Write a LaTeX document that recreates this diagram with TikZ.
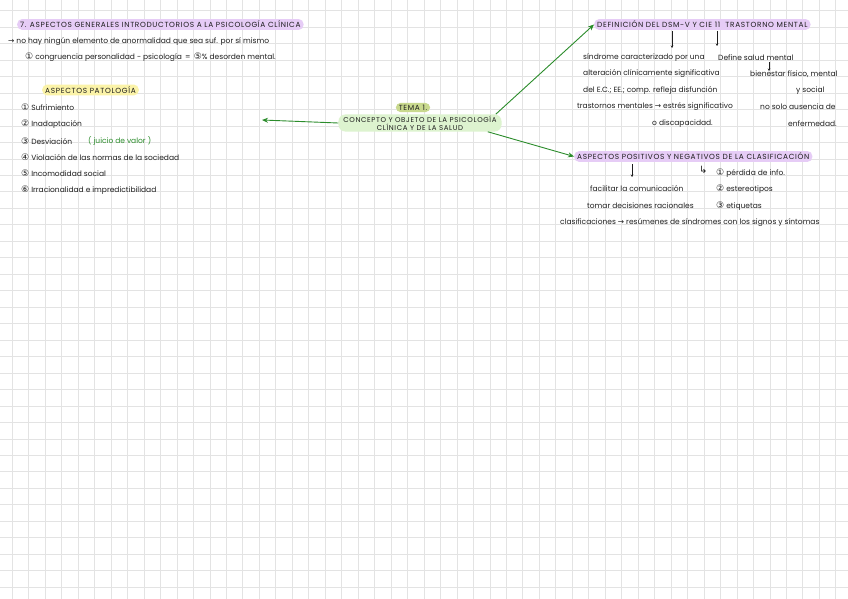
\documentclass[tikz,border=0pt]{standalone}
\usepackage{fontspec}
\setmainfont{Poppins}
\newfontfamily\symf{DejaVu Sans}
\newfontfamily\capf[LetterSpace=9]{Poppins}
\usetikzlibrary{arrows.meta}
\definecolor{gridc}{HTML}{E3E3E3}
\definecolor{ink}{HTML}{1E1E1E}
\definecolor{purp}{HTML}{E6CCF6}
\definecolor{yel}{HTML}{FBF3A8}
\definecolor{olive}{HTML}{C9D98E}
\definecolor{lgreen}{HTML}{DDF3CF}
\definecolor{arrg}{HTML}{2B8C2B}
\newcommand\mysym[1]{{\symf\fontsize{9}{9}\selectfont #1}}
\newcommand\myarr{{\symf →}}
\begin{document}
\begin{tikzpicture}[x=1pt,y=-1pt,
  txt/.style={anchor=west, inner sep=0pt, text=ink, font=\fontsize{7.5}{8}\selectfont},
  capbox/.style={anchor=west, text=ink, font=\capf\fontsize{7.4}{8}\selectfont, rounded corners=5pt, inner xsep=3pt, inner ysep=2pt},
  hlp/.style={capbox, fill=purp},
  hly/.style={capbox, fill=yel},
  garrow/.style={draw=arrg, line width=0.9pt, -{Stealth[length=6pt,width=5pt]}},
  karrow/.style={draw=ink, line width=0.5pt, -{Stealth[length=2.5pt,width=2.5pt]}}]
\useasboundingbox (0,0) rectangle (848,599);
\fill[white] (0,0) rectangle (848,599);
% grid
\foreach \i in {0,...,51} \draw[gridc, line width=0.8pt] ({12.3+16.47*\i},0) -- ({12.3+16.47*\i},599);
\foreach \j in {0,...,36} \draw[gridc, line width=0.8pt] (0,{10.7+16.47*\j}) -- (848,{10.7+16.47*\j});

% top-left block
\node[hlp] (title) at (17,24.5) {7. ASPECTOS GENERALES INTRODUCTORIOS A LA PSICOLOGÍA CLÍNICA};
\node[txt] (l2) at (8,42) {\myarr\ no hay ningún elemento de anormalidad que sea suf. por sí mismo};
\node[txt] (l3) at (25,57) {\mysym{①} congruencia personalidad - psicología \,=\, \mysym{⑤}\% desorden mental.};

\node[hly] (pat) at (42,90) {ASPECTOS PATOLOGÍA\hspace{4pt}};
\node[txt] (p1) at (21,107) {\mysym{①} Sufrimiento};
\node[txt] (p2) at (21,124) {\mysym{②} Inadaptación};
\node[txt] (p3) at (21,141) {\mysym{③} Desviación};
\node[txt, text=arrg] (p3b) at (88,141) {( juicio de valor )};
\node[txt] (p4) at (21,157) {\mysym{④} Violación de las normas de la sociedad};
\node[txt] (p5) at (21,173) {\mysym{⑤} Incomodidad social};
\node[txt] (p6) at (21,190) {\mysym{⑥} Irracionalidad e impredictibilidad};

% center
\node[capbox, font=\capf\fontsize{7}{7.6}\selectfont, fill=lgreen, anchor=center, align=center, inner xsep=5pt, inner ysep=1.5pt, rounded corners=7pt] (concept) at (420,123)
  {CONCEPTO Y OBJETO DE LA PSICOLOGÍA\\CLÍNICA Y DE LA SALUD};
\node[capbox, fill=olive, anchor=center] (tema) at (413,107.5) {TEMA 1.};

% DSM block
\node[hlp] (dsm) at (594,24.5) {DEFINICIÓN DEL DSM-V Y CIE 11 \ TRASTORNO MENTAL\hspace{4pt}};
\coordinate (d1a) at (672,31);
\coordinate (d1b) at (672,48);
\coordinate (d2a) at (717,31);
\coordinate (d2b) at (717,46);
\draw[karrow] (d1a) -- (d1b);
\draw[karrow] (d2a) -- (d2b);
\node[txt] (s1) at (583,58) {síndrome caracterizado por una};
\node[txt] (s2) at (583,74) {alteración clínicamente significativa};
\node[txt] (s3) at (583,91) {del E.C.; EE.; comp. refleja disfunción};
\node[txt] (s4) at (577,107) {trastornos mentales \myarr\ estrés significativo};
\node[txt] (s5) at (652,124) {o discapacidad.};
\node[txt] (r1) at (718,58) {Define salud mental};
\node[txt] (r2) at (750,74) {bienestar físico, mental};
\node[txt] (r3) at (796,91) {y social};
\node[txt] (r4) at (760,107) {no solo ausencia de};
\node[txt] (r5) at (788,124) {enfermedad.};
\coordinate (sa) at (769,62);
\coordinate (sb) at (769,71);
\draw[karrow, line width=0.4pt] (sa) -- (sb);

% clasificación block
\node[hlp] (cla) at (574,156.5) {ASPECTOS POSITIVOS Y NEGATIVOS DE LA CLASIFICACIÓN\hspace{4pt}};
\coordinate (c1a) at (632,164);
\coordinate (c1b) at (632,177);
\draw[karrow] (c1a) -- (c1b);
\node[txt] (ret) at (699,170) {{\symf\fontsize{10}{10}\selectfont ↳}};
\node[txt] (n1) at (716,173) {\mysym{①} pérdida de info.};
\node[txt] (f1) at (590,189) {facilitar la comunicación};
\node[txt] (n2) at (716,189) {\mysym{②} estereotipos};
\node[txt] (f2) at (587,206) {tomar decisiones racionales};
\node[txt] (n3) at (716,206) {\mysym{③} etiquetas};
\node[txt] (f3) at (560,223) {clasificaciones \myarr\ resúmenes de síndromes con los signos y síntomas};

% green connectors
\coordinate (leftend) at (262,120);
\draw[garrow] (concept.west) -- (leftend);
\draw[garrow] ([xshift=-6pt]concept.north east) -- (dsm.west);
\draw[garrow] ([xshift=-14pt]concept.south east) -- (cla.west);
\end{tikzpicture}
\end{document}
